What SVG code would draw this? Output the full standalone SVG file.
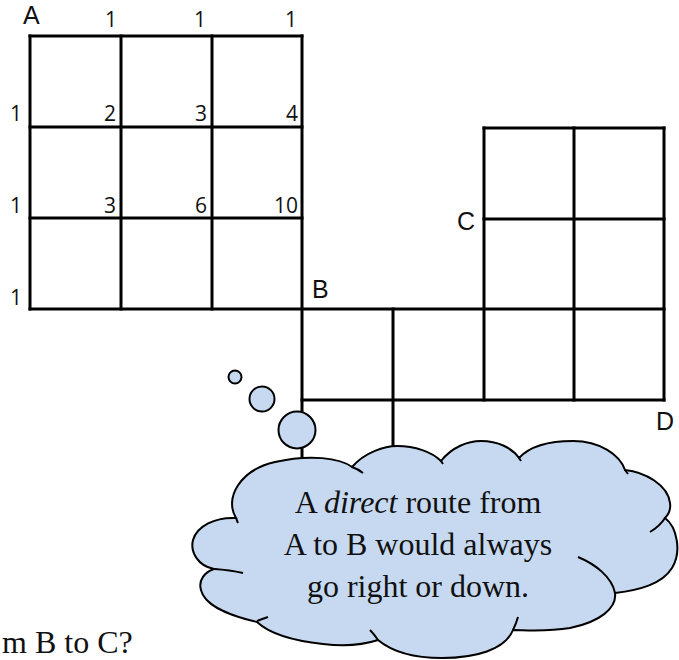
<svg xmlns="http://www.w3.org/2000/svg" width="679" height="660" viewBox="0 0 679 660">
<style>
.g{stroke:#000;stroke-width:3;fill:none;stroke-linecap:square}
.lab{font-family:"Liberation Sans",Arial,sans-serif;font-size:25px;fill:#111}
.num{font-family:"Open Sans","DejaVu Sans",sans-serif;font-size:21px;fill:#111}
.cl{fill:#C6D9F0;stroke:#000;stroke-width:2}
.tail{fill:none;stroke:#000;stroke-width:2}
.ct{font-family:"Liberation Serif","Times New Roman",serif;font-size:32px;fill:#111}
</style>
<rect width="679" height="660" fill="#fff"/>
<g id="connectors">
<path class="g" d="M30,36H302M30,127H302M30,218H302M30,309H664M302,400H664M484,128H664M484,219H664"/>
<path class="g" d="M30,36V309M121,36V309M212,36V309M302,36V470M393,309V470M484,128V400M574,128V400M664,128V400"/>
</g>
<g id="labels">
<text class="lab" x="23" y="24">A</text>
<text class="lab" x="312" y="298">B</text>
<text class="lab" x="457" y="230">C</text>
<text class="lab" x="656" y="430">D</text>
<text class="num" x="111" y="27" text-anchor="middle">1</text>
<text class="num" x="200" y="27" text-anchor="middle">1</text>
<text class="num" x="291" y="27" text-anchor="middle">1</text>
<text class="num" x="16" y="121" text-anchor="middle">1</text>
<text class="num" x="16" y="213" text-anchor="middle">1</text>
<text class="num" x="16" y="305" text-anchor="middle">1</text>
<text class="num" x="116" y="121" text-anchor="end">2</text>
<text class="num" x="207" y="121" text-anchor="end">3</text>
<text class="num" x="298" y="121" text-anchor="end">4</text>
<text class="num" x="116" y="213" text-anchor="end">3</text>
<text class="num" x="207" y="213" text-anchor="end">6</text>
<text class="num" x="298" y="213" text-anchor="end">10</text>
</g>
<g id="bubbles">
<circle class="cl" cx="235" cy="377" r="6.5"/>
<circle class="cl" cx="262" cy="399" r="12.5"/>
<circle class="cl" cx="297" cy="430" r="18.5"/>
</g>
<g id="cloud">
<path class="cl" d="M236,518 C224,498 240,470 275,462 C310,454 340,458 352,467 C365,452 385,446 397,446 C415,446 432,452 441,461 C452,447 468,441 481,441 C498,441 512,448 519,458 C530,446 550,441 573,441 C600,441 620,455 625,470 C645,472 668,485 670,503 C671,510 668,515 665,518 C677,527 682,552 672,568 C662,584 640,590 615,593 C617,608 600,622 570,628 C545,632 525,630 513,630 C505,650 475,658 442,658 C410,658 390,650 378,640 C360,646 340,646 323,644 C295,641 270,634 257,622 C235,617 205,607 201,590 C198,580 205,572 214,569 C198,566 190,552 193,540 C197,526 215,517 236,518 Z"/>
<path class="tail" d="M236,518 Q237,521 238,523 M352,467 Q358,469 363,473 M441,461 L443,464 M519,458 L521,461 M625,470 L628,474 M665,518 Q660,526 650,532 M578,557 C595,564 612,577 615,593 M513,630 Q516,624 518,617 M378,640 Q374,634 370,630 M257,621 Q262,619 268,617 M214,569 Q230,570 243,573"/>
<text class="ct" x="418" y="513" text-anchor="middle">A <tspan font-style="italic">direct</tspan> route from</text>
<text class="ct" x="418" y="555" text-anchor="middle">A to B would always</text>
<text class="ct" x="418" y="597" text-anchor="middle">go right or down.</text>
</g>
<text class="ct" x="2" y="653" font-size="30.5">m B to C?</text>
</svg>
